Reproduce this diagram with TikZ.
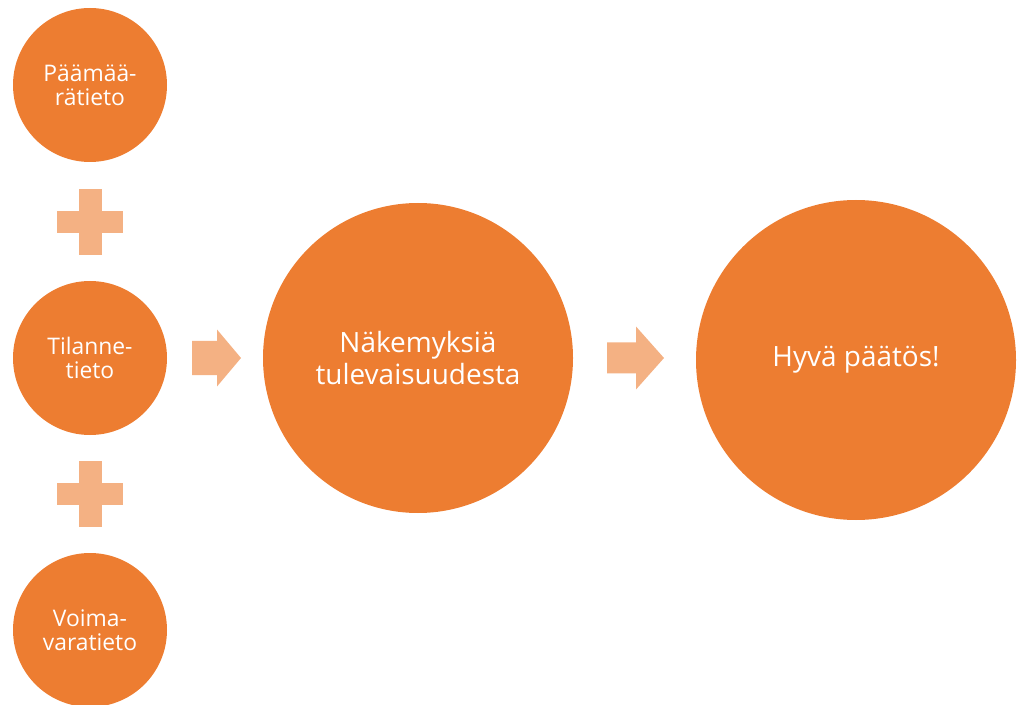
\documentclass[tikz,border=0pt]{standalone}
\usepackage{fontspec}
\setmainfont{Open Sans}
\usetikzlibrary{positioning}
\definecolor{accent}{HTML}{ED7D31}
\definecolor{accentlt}{HTML}{F4B183}
\tikzset{
    smallc/.style = {circle, fill=accent, minimum size=3.08cm, inner sep=0pt, align=center, text=white, font=\fontsize{13}{13.7}\selectfont},
    bigc/.style = {circle, fill=accent, minimum size=6.2cm, inner sep=0pt, align=center, text=white, font=\fontsize{15.9}{18.2}\selectfont},
    blockarrow/.style = {fill=accentlt},
    plusmark/.pic = {
        \fill[accentlt] (-0.23,-0.66) rectangle (0.23,0.66);
        \fill[accentlt] (-0.66,-0.22) rectangle (0.66,0.22);
    }
}

\begin{document}
\begin{tikzpicture}
\useasboundingbox (0,0) rectangle (20.38,14.08);
\node[smallc] at (1.8, 12.38) (goal) {Päämää-\\rätieto};
\node[smallc] at (1.8, 6.92) (sit) {Tilanne-\\tieto};
\node[smallc] at (1.8, 1.48) (res) {Voima-\\varatieto};
\node[bigc] at (8.36, 6.92) (view) {Näkemyksiä\\tulevaisuudesta};
\node[bigc, minimum size=6.4cm] at (17.12, 6.88) (dec) {Hyvä päätös!};
%
\pic at (1.8, 9.64) {plusmark};
\pic at (1.8, 4.2) {plusmark};
%
\coordinate (a1) at (3.84, 6.92);
\coordinate (a2) at (12.14, 6.92);
\fill[blockarrow] (a1) ++(0,0.34) -- ++(0.5,0) -- ++(0,0.23) -- ++(0.48,-0.57) -- ++(-0.48,-0.57) -- ++(0,0.23) -- ++(-0.5,0) -- cycle;
\fill[blockarrow] (a2) ++(0,0.31) -- ++(0.58,0) -- ++(0,0.32) -- ++(0.56,-0.63) -- ++(-0.56,-0.63) -- ++(0,0.32) -- ++(-0.58,0) -- cycle;
\end{tikzpicture}
\end{document}
